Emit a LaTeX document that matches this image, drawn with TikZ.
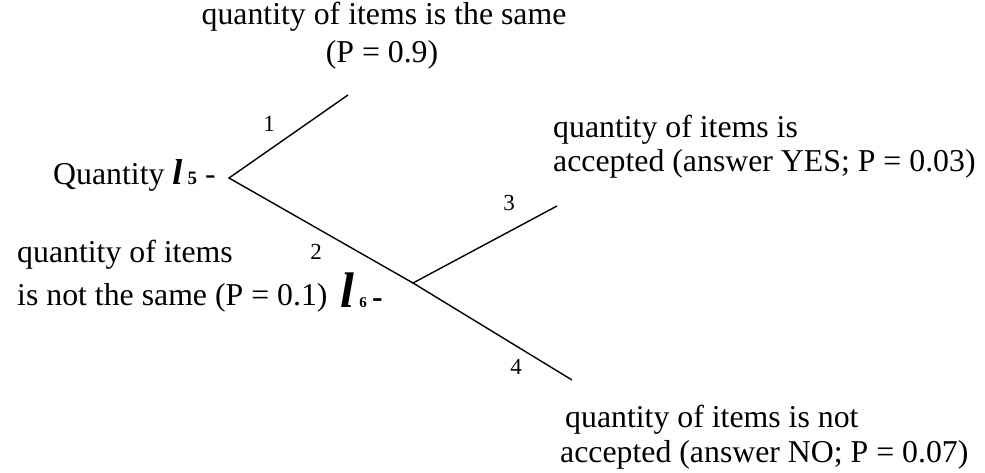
\documentclass[tikz,border=0pt]{standalone}
\usepackage{fontspec}
\setmainfont{Liberation Serif}
\begin{document}
\begin{tikzpicture}[x=1pt,y=-1pt,
  txt/.style={inner sep=0pt,anchor=base west,font=\fontsize{31.8}{36}\selectfont},
  ctxt/.style={inner sep=0pt,anchor=base,font=\fontsize{31.8}{36}\selectfont},
  num/.style={inner sep=0pt,font=\fontsize{23}{23}\selectfont},
  branch/.style={line width=1.4pt}]
\useasboundingbox (0,0) rectangle (985,473);
% junction points
\coordinate (r) at (229,178);
\coordinate (e1) at (348,95);
\coordinate (j) at (413,283);
\coordinate (e3) at (557,206);
\coordinate (e4) at (572,380);
\draw[branch] (e1) -- (r) -- (j);
\draw[branch] (e3) -- (j) -- (e4);
% branch numbers
\node[num] (n1) at (269,124) {1};
\node[num] (n2) at (316,252) {2};
\node[num] (n3) at (509,203) {3};
\node[num] (n4) at (516,367) {4};
% texts
\node[ctxt] (t1a) at (384,25) {quantity of items is the same};
\node[ctxt] (t1b) at (382,63) {(P = 0.9)};
\node[txt] (q5) at (53,185) {Quantity {\fontsize{36}{36}\selectfont\bfseries\itshape l}\,{\fontsize{19}{19}\selectfont\bfseries 5} -};
\node[txt] (t2a) at (17,262) {quantity of items};
\node[txt] (t2b) at (17,305) {is not the same (P = 0.1)};
\node[txt] (l6) at (340,307) {{\fontsize{50}{50}\selectfont\bfseries\itshape l}\,{\fontsize{15}{15}\selectfont\bfseries 6}\,{\bfseries -}};
\node[txt] (t3a) at (553,138) {quantity of items is};
\node[txt] (t3b) at (553,172) {accepted (answer YES; P = 0.03)};
\node[txt] (t4a) at (565,427) {quantity of items is not};
\node[txt] (t4b) at (560,462) {accepted (answer NO; P = 0.07)};
\end{tikzpicture}
\end{document}
